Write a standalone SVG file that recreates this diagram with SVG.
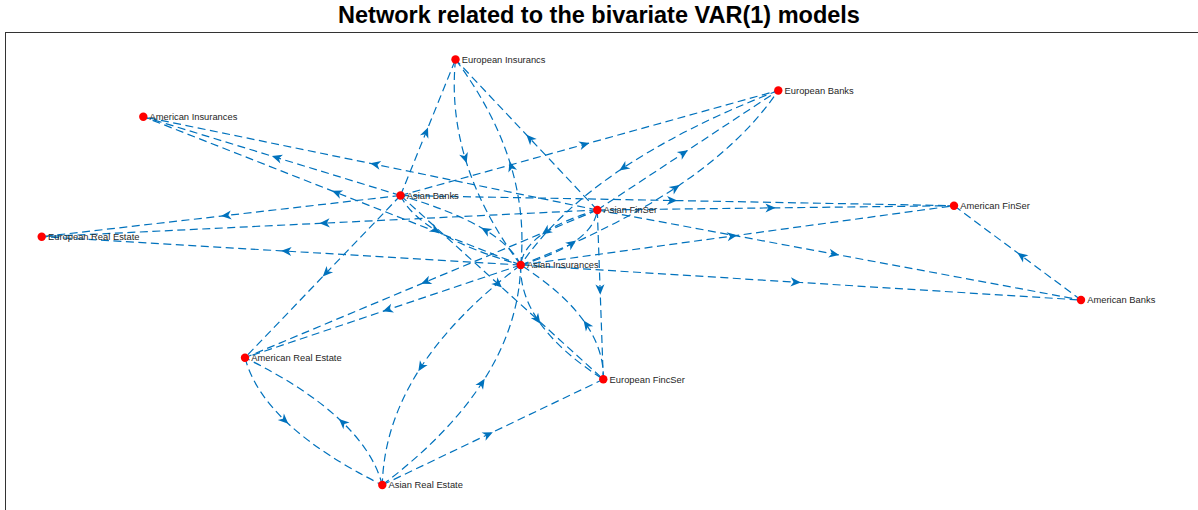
<svg xmlns="http://www.w3.org/2000/svg" width="1198" height="510" viewBox="0 0 1198 510">
  <style>
    .edge { fill: none; stroke: #0072BD; stroke-width: 1.2; stroke-dasharray: 8 4.5; marker-mid: url(#arrow); }
    .node circle { fill: #FF0000; }
    .node text { font-family: "Liberation Sans", Arial, sans-serif; font-size: 9.35px; fill: #262626; }
    .title { font-family: "Liberation Sans", Arial, sans-serif; font-size: 23.5px; font-weight: bold; fill: #000; }
    .axes { fill: none; stroke: #333333; stroke-width: 1; }
  </style>
  <defs>
    <!-- notched arrowhead, tip placed at the midpoint of each edge -->
    <marker id="arrow" markerUnits="userSpaceOnUse" markerWidth="14" markerHeight="14" viewBox="-11 -6 13 12" refX="0" refY="0" orient="auto" overflow="visible">
      <path d="M0,0 L-9.5,-4.2 L-6.8,0 L-9.5,4.2 Z" fill="#0072BD"/>
    </marker>
  </defs>

  <rect x="0" y="0" width="1198" height="510" fill="#FFFFFF"/>
  <text class="title" x="599" y="23.3" text-anchor="middle">Network related to the bivariate VAR(1) models</text>
  <rect class="axes" x="5.5" y="32.5" width="1210" height="500"/>

  <g id="edges">
    <!-- straight edges: source, midpoint, target -->
    <path class="edge" d="M597.3,210 L370.3,163.35 L143.3,116.7"/>
    <path class="edge" d="M400.5,195.5 L271.9,156.1 L143.3,116.7"/>
    <path class="edge" d="M520.7,265 L332,190.85 L143.3,116.7"/>
    <path class="edge" d="M400.5,195.5 L221.1,216.1 L41.7,236.7"/>
    <path class="edge" d="M597.3,210 L319.5,223.35 L41.7,236.7"/>
    <path class="edge" d="M520.7,265 L281.2,250.85 L41.7,236.7"/>
    <path class="edge" d="M400.5,195.5 L322.75,276.6 L245,357.7"/>
    <path class="edge" d="M597.3,210 L421.15,283.85 L245,357.7"/>
    <path class="edge" d="M520.7,265 L382.85,311.35 L245,357.7"/>
    <path class="edge" d="M400.5,195.5 L428,127.5 L455.5,59.5"/>
    <path class="edge" d="M597.3,210 L526.4,134.75 L455.5,59.5"/>
    <path class="edge" d="M400.5,195.5 L589.4,143 L778.3,90.5"/>
    <path class="edge" d="M597.3,210 L687.8,150.25 L778.3,90.5"/>
    <path class="edge" d="M400.5,195.5 L677.25,200.6 L954,205.7"/>
    <path class="edge" d="M597.3,210 L775.65,207.85 L954,205.7"/>
    <path class="edge" d="M520.7,265 L737.35,235.35 L954,205.7"/>
    <path class="edge" d="M597.3,210 L839.15,255 L1081,300"/>
    <path class="edge" d="M520.7,265 L800.85,282.5 L1081,300"/>
    <path class="edge" d="M1081,300 L1017.5,252.85 L954,205.7"/>
    <path class="edge" d="M597.3,210 L600.3,294.65 L603.3,379.3"/>
    <path class="edge" d="M400.5,195.5 L501.9,287.4 L603.3,379.3"/>
    <path class="edge" d="M382.3,485 L492.8,432.15 L603.3,379.3"/>
    <!-- reciprocal pairs drawn as curves, split at their midpoint -->
    <path class="edge" d="M400.5,195.5 Q409.88,215.38 439.93,232.75 Q469.98,250.13 520.7,265"/>
    <path class="edge" d="M520.7,265 Q511.32,245.13 481.27,227.75 Q451.22,210.38 400.5,195.5"/>
    <path class="edge" d="M597.3,210 Q561.09,220.67 541.94,234.42 Q522.79,248.17 520.7,265"/>
    <path class="edge" d="M520.7,265 Q556.91,254.33 576.06,240.58 Q595.21,226.83 597.3,210"/>
    <path class="edge" d="M778.3,90.5 Q683.76,126.93 619.36,170.55 Q554.96,214.18 520.7,265"/>
    <path class="edge" d="M520.7,265 Q615.24,228.58 679.64,184.95 Q744.04,141.33 778.3,90.5"/>
    <path class="edge" d="M455.5,59.5 Q450.31,111.65 466.61,163.02 Q482.91,214.4 520.7,265"/>
    <path class="edge" d="M520.7,265 Q525.89,212.86 509.59,161.48 Q493.29,110.11 455.5,59.5"/>
    <path class="edge" d="M520.7,265 Q519.78,295.13 540.43,323.7 Q561.08,352.28 603.3,379.3"/>
    <path class="edge" d="M603.3,379.3 Q604.22,349.18 583.57,320.6 Q562.92,292.03 520.7,265"/>
    <path class="edge" d="M520.7,265 Q452.94,316.23 418.34,371.23 Q383.74,426.23 382.3,485"/>
    <path class="edge" d="M382.3,485 Q450.06,433.77 484.66,378.77 Q519.26,323.77 520.7,265"/>
    <path class="edge" d="M245,357.7 Q254,391.93 288.32,423.75 Q322.65,455.58 382.3,485"/>
    <path class="edge" d="M382.3,485 Q373.31,450.78 338.98,418.95 Q304.66,387.13 245,357.7"/>
  </g>

  <g id="node-european-insurancs" class="node"><circle cx="455.5" cy="59.5" r="4.2"/><text x="461.8" y="62.8">European Insurancs</text></g>
  <g id="node-european-banks" class="node"><circle cx="778.3" cy="90.5" r="4.2"/><text x="784.6" y="93.8">European Banks</text></g>
  <g id="node-american-insurances" class="node"><circle cx="143.3" cy="116.7" r="4.2"/><text x="149.6" y="120">American Insurances</text></g>
  <g id="node-asian-banks" class="node"><circle cx="400.5" cy="195.5" r="4.2"/><text x="406.8" y="198.8">Asian Banks</text></g>
  <g id="node-asian-finser" class="node"><circle cx="597.3" cy="210" r="4.2"/><text x="603.6" y="213.3">Asian FinSer</text></g>
  <g id="node-american-finser" class="node"><circle cx="954" cy="205.7" r="4.2"/><text x="960.3" y="209">American FinSer</text></g>
  <g id="node-european-real-estate" class="node"><circle cx="41.7" cy="236.7" r="4.2"/><text x="48" y="240">European Real Estate</text></g>
  <g id="node-asian-insurances" class="node"><circle cx="520.7" cy="265" r="4.2"/><text x="527" y="268.3">Asian Insurances</text></g>
  <g id="node-american-banks" class="node"><circle cx="1081" cy="300" r="4.2"/><text x="1087.3" y="303.3">American Banks</text></g>
  <g id="node-american-real-estate" class="node"><circle cx="245" cy="357.7" r="4.2"/><text x="251.3" y="361">American Real Estate</text></g>
  <g id="node-european-fincser" class="node"><circle cx="603.3" cy="379.3" r="4.2"/><text x="609.6" y="382.6">European FincSer</text></g>
  <g id="node-asian-real-estate" class="node"><circle cx="382.3" cy="485" r="4.2"/><text x="388.6" y="488.3">Asian Real Estate</text></g>
</svg>
